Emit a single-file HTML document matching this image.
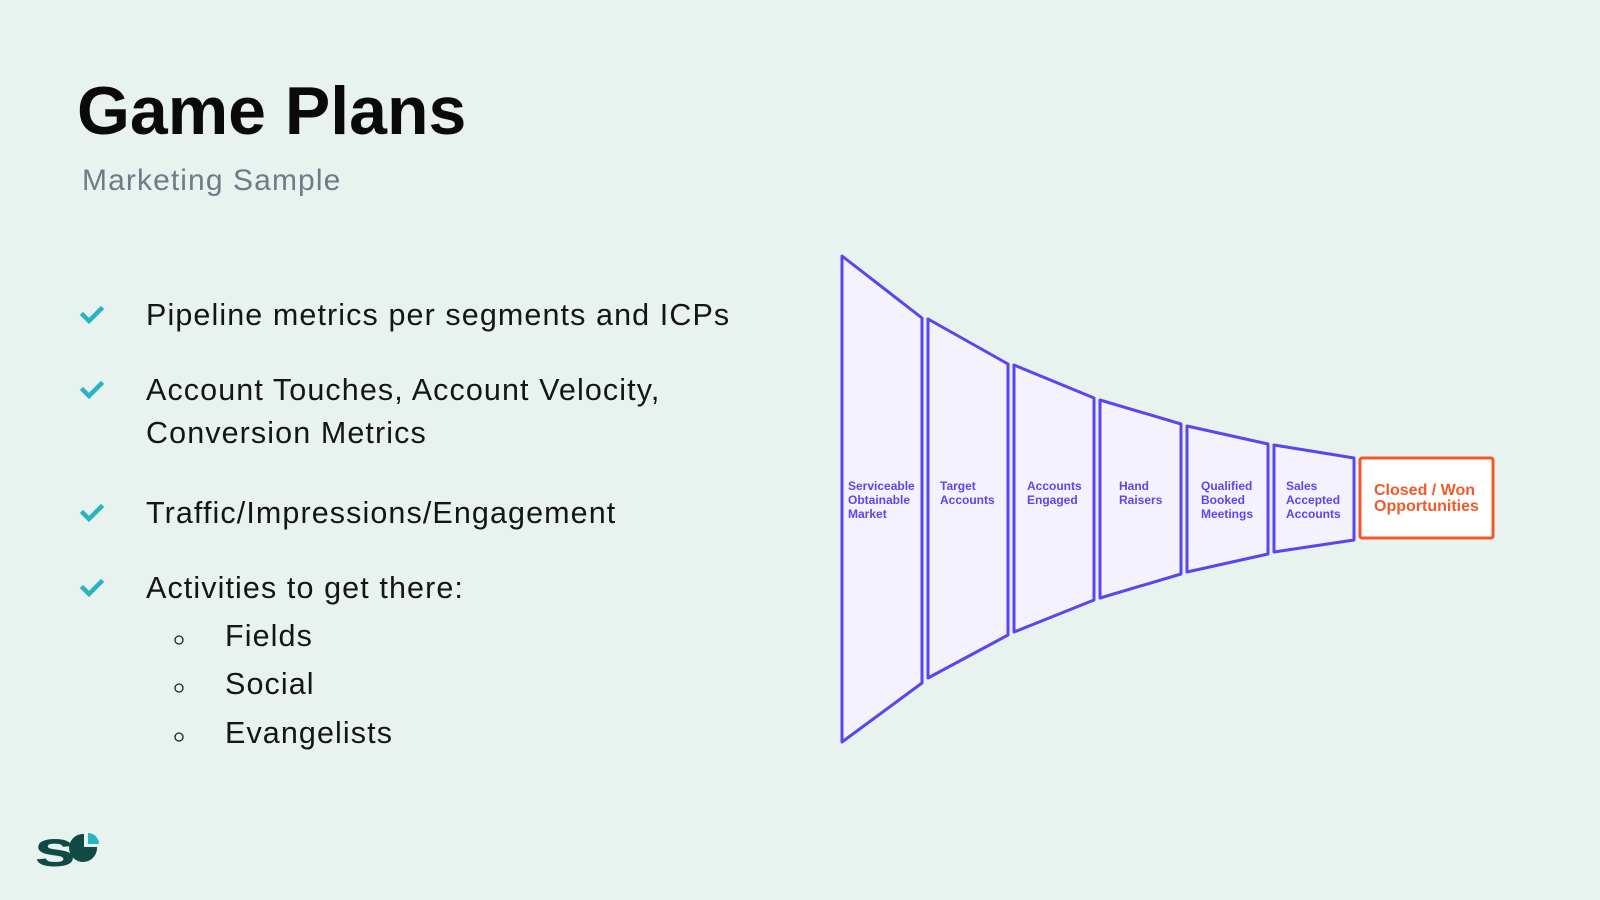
<!DOCTYPE html>
<html><head><meta charset="utf-8"><style>
body{margin:0;width:1600px;height:900px;background:#e8f2ef;position:relative;overflow:hidden;font-family:"Liberation Sans",sans-serif;}
.t{position:absolute;white-space:nowrap;color:#151515}
.b{font-size:30.5px;letter-spacing:1.1px}
</style></head><body>
<div class="t" style="left:77px;top:72px;font-size:68px;font-weight:bold;color:#0a0a0a;letter-spacing:0px">Game Plans</div>
<div class="t" style="left:82px;top:164px;font-size:30px;color:#6e7b88;letter-spacing:1.1px">Marketing Sample</div>
<svg width="1600" height="900" style="position:absolute;left:0;top:0">
<g fill="none" stroke="#2ab3c3" stroke-width="4.5" stroke-linecap="square">
<path d="M83,315 L89,321 L101,309"/>
<path d="M83,390 L89,396 L101,384"/>
<path d="M83,513 L89,519 L101,507"/>
<path d="M83,588 L89,594 L101,582"/>
</g>
<g fill="none" stroke="#222" stroke-width="1.3">
<circle cx="179" cy="640" r="4"/><circle cx="179" cy="688" r="4"/><circle cx="179" cy="737" r="4"/>
</g>
<g fill="#f4f3fd" stroke="#5b45f0" stroke-width="3" stroke-linejoin="round">
<polygon points="842,256 922,318 922,683 842,742"/>
<polygon points="928,319 1008,364 1008,635 928,678"/>
<polygon points="1014,365 1094,398 1094,600 1014,632"/>
<polygon points="1100,400 1181,424 1181,574 1100,598"/>
<polygon points="1187,426 1268,444 1268,554 1187,572"/>
<polygon points="1274,445 1354,458 1354,540 1274,552"/>
</g>
<rect x="1360" y="458" width="133" height="80" fill="#fff" stroke="#f4582a" stroke-width="3" rx="2"/>
<g font-family="Liberation Sans,sans-serif" font-weight="bold" font-size="12" fill="#5b45f0">
<text x="848" y="490">Serviceable</text><text x="848" y="504">Obtainable</text><text x="848" y="518">Market</text>
<text x="940" y="490">Target</text><text x="940" y="504">Accounts</text>
<text x="1027" y="490">Accounts</text><text x="1027" y="504">Engaged</text>
<text x="1119" y="490">Hand</text><text x="1119" y="504">Raisers</text>
<text x="1201" y="490">Qualified</text><text x="1201" y="504">Booked</text><text x="1201" y="518">Meetings</text>
<text x="1286" y="490">Sales</text><text x="1286" y="504">Accepted</text><text x="1286" y="518">Accounts</text>
</g>
<g font-family="Liberation Sans,sans-serif" font-weight="bold" font-size="16" fill="#f4582a">
<text x="1374" y="495">Closed / Won</text><text x="1374" y="511">Opportunities</text>
</g>
<g>
<text x="34" y="866" font-family="Liberation Sans,sans-serif" font-weight="bold" font-size="50" fill="#0f4a45" transform="translate(34 0) scale(1.05 1) translate(-34 0)" textLength="40" lengthAdjust="spacingAndGlyphs">s</text>
<path d="M84,834 v13 h13 a14,14 0 1 1 -13,-13 z" fill="#0f4a45"/>
<path d="M88,833 a11,11 0 0 1 11,11 h-11 z" fill="#2ab3c3"/>
</g>
</svg>
<div class="t b" style="left:146px;top:298px">Pipeline metrics per segments and ICPs</div>
<div class="t b" style="left:146px;top:373px">Account Touches, Account Velocity,</div>
<div class="t b" style="left:146px;top:416px">Conversion Metrics</div>
<div class="t b" style="left:146px;top:496px">Traffic/Impressions/Engagement</div>
<div class="t b" style="left:146px;top:571px">Activities to get there:</div>
<div class="t b" style="left:225px;top:619px">Fields</div>
<div class="t b" style="left:225px;top:667px">Social</div>
<div class="t b" style="left:225px;top:716px">Evangelists</div>
</body></html>
